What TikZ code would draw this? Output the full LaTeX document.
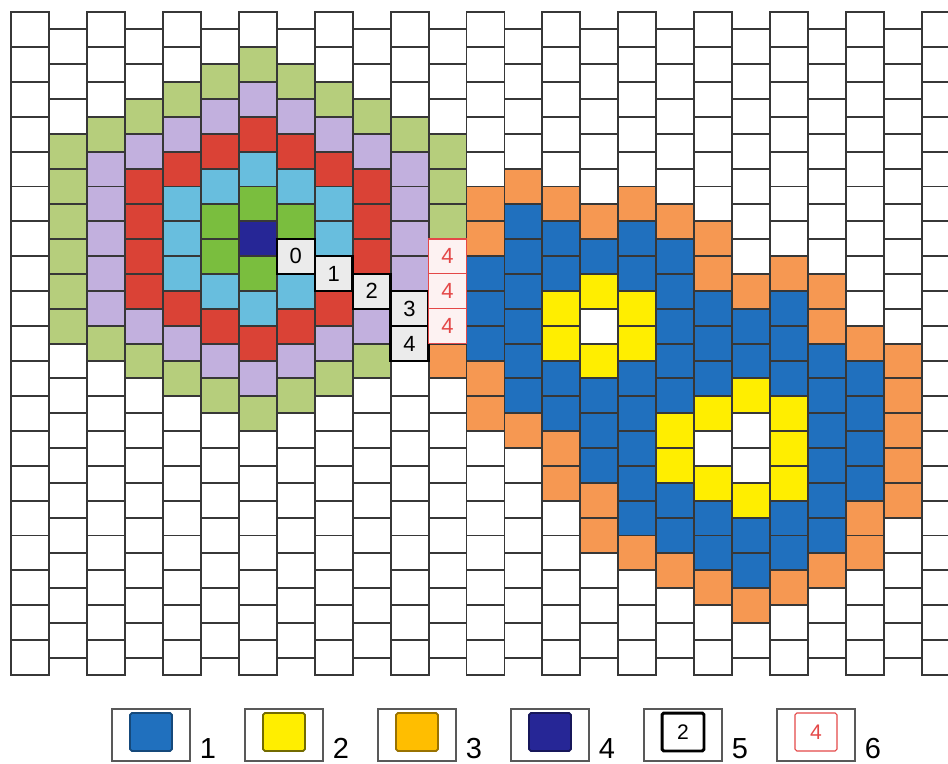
\documentclass[tikz,border=0pt]{standalone}
\usepackage{fontspec}
\setmainfont{Liberation Sans}

\definecolor{navycell}{RGB}{38,38,150}
\definecolor{greencell}{RGB}{122,190,62}
\definecolor{cyancell}{RGB}{104,190,222}
\definecolor{redcell}{RGB}{218,66,54}
\definecolor{lilaccell}{RGB}{194,176,222}
\definecolor{olivecell}{RGB}{182,206,124}
\definecolor{orangecell}{RGB}{246,152,82}
\definecolor{bluecell}{RGB}{32,112,190}
\definecolor{yellowcell}{RGB}{255,238,0}
\definecolor{ambercell}{RGB}{255,190,0}
\definecolor{gridgray}{RGB}{55,55,55}
\definecolor{marked}{RGB}{228,72,72}

% one brick of the grid: column, row, colour
\newcommand{\fillcell}[3]{%
  \pgfmathsetmacro{\cellx}{11+37.96*(#1)}%
  \pgfmathsetmacro{\celly}{12+34.9*(#2)+17.45*mod(#1,2)}%
  \fill[#3] (\cellx,\celly) rectangle ++(37.96,34.9);}

\begin{document}
\begin{tikzpicture}[x=0.02cm, y=-0.02cm,
    gridline/.style={line width=1.1pt, draw=gridgray, line cap=rect},
    numcell/.style={shape=rectangle, draw=black, fill=black!8, line width=1.3pt,
      minimum width=0.759cm, minimum height=0.698cm, inner sep=0pt,
      font=\fontsize{12.5}{14}\selectfont},
    overlapcell/.style={numcell, draw=marked, fill=marked!7, line width=0.8pt, text=marked},
    keybox/.style={shape=rectangle, draw=black!65, line width=1pt,
      minimum width=1.56cm, minimum height=1.04cm, inner sep=0pt},
    keyswatch/.style={shape=rectangle, rounded corners=1pt, line width=1pt,
      minimum width=0.84cm, minimum height=0.76cm, inner sep=0pt,
      font=\fontsize{12}{14}\selectfont},
    keylabel/.style={anchor=base, inner sep=0pt, font=\fontsize{16.5}{19}\selectfont}]

  \useasboundingbox (0,0) rectangle (948,764);

  \begin{scope}
    \clip (0,0) rectangle (948,764);

    % left cluster: rings round the dark cell
    \foreach \cl/\rw/\n/\fl in {
        1/3/6/olivecell,
        2/3/1/olivecell, 2/4/5/lilaccell, 2/9/1/olivecell,
        3/2/1/olivecell, 3/3/1/lilaccell, 3/4/4/redcell, 3/8/1/lilaccell, 3/9/1/olivecell,
        4/2/1/olivecell, 4/3/1/lilaccell, 4/4/1/redcell, 4/5/3/cyancell, 4/8/1/redcell,
        4/9/1/lilaccell, 4/10/1/olivecell,
        5/1/1/olivecell, 5/2/1/lilaccell, 5/3/1/redcell, 5/4/1/cyancell, 5/5/2/greencell,
        5/7/1/cyancell, 5/8/1/redcell, 5/9/1/lilaccell, 5/10/1/olivecell,
        6/1/1/olivecell, 6/2/1/lilaccell, 6/3/1/redcell, 6/4/1/cyancell, 6/5/1/greencell,
        6/6/1/navycell, 6/7/1/greencell, 6/8/1/cyancell, 6/9/1/redcell, 6/10/1/lilaccell,
        6/11/1/olivecell,
        7/1/1/olivecell, 7/2/1/lilaccell, 7/3/1/redcell, 7/4/1/cyancell, 7/5/1/greencell,
        7/7/1/cyancell, 7/8/1/redcell, 7/9/1/lilaccell, 7/10/1/olivecell,
        8/2/1/olivecell, 8/3/1/lilaccell, 8/4/1/redcell, 8/5/2/cyancell, 8/8/1/redcell,
        8/9/1/lilaccell, 8/10/1/olivecell,
        9/2/1/olivecell, 9/3/1/lilaccell, 9/4/3/redcell, 9/8/1/lilaccell, 9/9/1/olivecell,
        10/3/1/olivecell, 10/4/4/lilaccell,
        11/3/3/olivecell}
      {\foreach \k in {1,...,\n} {\fillcell{\cl}{\rw+\k-1}{\fl}}}

    % right cluster
    \foreach \cl/\rw/\n/\fl in {
        11/9/1/orangecell,
        12/5/2/orangecell, 12/7/3/bluecell, 12/10/2/orangecell,
        13/4/1/orangecell, 13/5/6/bluecell, 13/11/1/orangecell,
        14/5/1/orangecell, 14/6/2/bluecell, 14/8/2/yellowcell, 14/10/2/bluecell, 14/12/2/orangecell,
        15/5/1/orangecell, 15/6/1/bluecell, 15/7/1/yellowcell, 15/9/1/yellowcell,
        15/10/3/bluecell, 15/13/2/orangecell,
        16/5/1/orangecell, 16/6/2/bluecell, 16/8/2/yellowcell, 16/10/5/bluecell, 16/15/1/orangecell,
        17/5/1/orangecell, 17/6/5/bluecell, 17/11/2/yellowcell, 17/13/2/bluecell, 17/15/1/orangecell,
        18/6/2/orangecell, 18/8/3/bluecell, 18/11/1/yellowcell, 18/13/1/yellowcell,
        18/14/2/bluecell, 18/16/1/orangecell,
        19/7/1/orangecell, 19/8/2/bluecell, 19/10/1/yellowcell, 19/13/1/yellowcell,
        19/14/2/bluecell, 19/16/1/orangecell,
        20/7/1/orangecell, 20/8/3/bluecell, 20/11/3/yellowcell, 20/14/2/bluecell, 20/16/1/orangecell,
        21/7/2/orangecell, 21/9/6/bluecell, 21/15/1/orangecell,
        22/9/1/orangecell, 22/10/4/bluecell, 22/14/2/orangecell,
        23/9/5/orangecell}
      {\foreach \k in {1,...,\n} {\fillcell{\cl}{\rw+\k-1}{\fl}}}

    % brick grid
    \foreach \cl in {0,...,25} {
      \pgfmathsetmacro{\cellx}{11+37.96*\cl}
      \draw[gridline] (\cellx,12) -- (\cellx,675);
    }
    \foreach \cl in {0,...,24} {
      \pgfmathsetmacro{\cellx}{11+37.96*\cl}
      \pgfmathsetmacro{\yoff}{12+17.45*mod(\cl,2)}
      \pgfmathtruncatemacro{\last}{19-mod(\cl,2)}
      \foreach \k in {0,...,\last}
        \draw[gridline] (\cellx,\yoff+34.9*\k) -- ++(37.96,0);
    }
  \end{scope}

  % numbered cells
  \node[numcell] (lbl0) at (295.7,256.3) {0};
  \node[numcell] (lbl1) at (333.66,273.75) {1};
  \node[numcell] (lbl2) at (371.62,291.2) {2};
  \node[numcell] (lbl3) at (409.58,308.65) {3};
  \node[numcell] (lbl4) at (409.58,343.55) {4};
  \node[overlapcell] (ovl1) at (447.54,256.3) {4};
  \node[overlapcell] (ovl2) at (447.54,291.2) {4};
  \node[overlapcell] (ovl3) at (447.54,326.1) {4};

  % legend
  \foreach \i in {1,...,6} {
    \node[keybox] (key\i) at ({151+133*(\i-1)},735) {};
    \node[keylabel] (keytxt\i) at ({208+133*(\i-1)},758) {\i};
  }
  \node[keyswatch, fill=bluecell, draw=bluecell!65!black] (sw1) at (151,732) {};
  \node[keyswatch, fill=yellowcell, draw=yellowcell!45!black] (sw2) at (284,732) {};
  \node[keyswatch, fill=ambercell, draw=ambercell!60!black] (sw3) at (417,732) {};
  \node[keyswatch, fill=navycell, draw=navycell!60!black] (sw4) at (550,732) {};
  \node[keyswatch, draw=black, line width=1.7pt] (sw5) at (683,732) {2};
  \node[keyswatch, draw=marked, line width=0.6pt, text=marked] (sw6) at (816,732) {4};
\end{tikzpicture}
\end{document}
